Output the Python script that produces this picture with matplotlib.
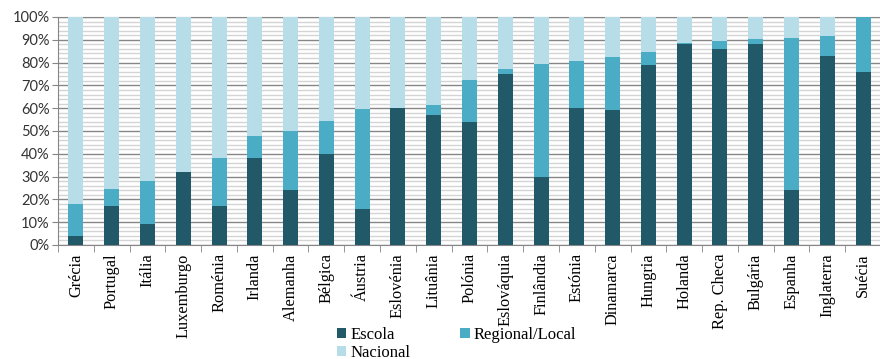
import numpy as np
import matplotlib
import matplotlib.pyplot as plt
from matplotlib.ticker import MultipleLocator, FixedLocator

matplotlib.use('Agg')

paises = ['Grécia', 'Portugal', 'Itália', 'Luxemburgo', 'Roménia', 'Irlanda',
          'Alemanha', 'Bélgica', 'Áustria', 'Eslovénia', 'Lituânia', 'Polónia',
          'Eslováquia', 'Finlândia', 'Estónia', 'Dinamarca', 'Hungria', 'Holanda',
          'Rep. Checa', 'Bulgária', 'Espanha', 'Inglaterra', 'Suécia']

escola = [4, 17, 9, 32, 17, 38, 24, 40, 16, 60, 57, 54,
          75, 30, 60, 59, 79, 88, 86, 88, 24, 83, 76]
regional = [14, 7.5, 19, 0, 21, 10, 26, 14.5, 43.5, 0, 4.5, 18.5,
            2, 49.5, 20.5, 23.5, 5.5, 0.5, 3.5, 2.5, 67, 8.7, 24]
nacional = [100 - e - r for e, r in zip(escola, regional)]
yticks = list(range(0, 101, 10))

c_escola = '#215968'
c_regional = '#4BACC6'
c_nacional = '#B7DEE8'

fig = plt.figure(figsize=(8.8, 3.59), dpi=100)
ax = fig.add_axes([58 / 880, 1 - 245 / 359, 823 / 880, 228 / 359])

x = np.arange(len(paises))
w = 0.42
base2 = np.array(escola)
base3 = base2 + np.array(regional)
b1 = ax.bar(x, escola, w, color=c_escola, label='Escola', zorder=3)
b2 = ax.bar(x, regional, w, bottom=base2, color=c_regional, label='Regional/Local', zorder=3)
b3 = ax.bar(x, nacional, w, bottom=base3, color=c_nacional, label='Nacional', zorder=3)

ax.set_xlim(-0.5, len(paises) - 0.5)
ax.set_ylim(0, 100)

ax.set_yticks(yticks)
ax.set_yticklabels([f'{v}%' for v in yticks], family='Lato', fontsize=10.5,
                   color='#333333')
ax.yaxis.set_minor_locator(MultipleLocator(2))
ax.grid(axis='y', which='major', color='#868686', lw=1, zorder=0)
ax.grid(axis='y', which='minor', color='#d4d4d4', lw=1, zorder=0)
ax.tick_params(axis='y', which='major', length=4, color='#868686', pad=2)
ax.tick_params(axis='y', which='minor', length=0)

ax.set_xticks(x)
ax.set_xticklabels(paises, rotation=90, family='Liberation Serif', fontsize=11.8)
ax.xaxis.set_minor_locator(FixedLocator(np.arange(-0.5, len(paises), 1)))
ax.tick_params(axis='x', which='major', length=0, pad=6)
ax.tick_params(axis='x', which='minor', length=5, color='#868686')

for s in ['top', 'left', 'bottom']:
    ax.spines[s].set_color('#868686')
ax.spines['right'].set_visible(False)

# ordem para preencher por linhas: Escola, Regional/Local / Nacional
fig.legend([b1, b3, b2], ['Escola', 'Nacional', 'Regional/Local'],
           loc='upper left', bbox_to_anchor=(337 / 880, 1 - 327 / 359), ncol=2,
           frameon=False, prop={'family': 'Liberation Serif', 'size': 12},
           handlelength=0.55, handleheight=0.55, handletextpad=0.25,
           columnspacing=3.0, labelspacing=0.1, borderpad=0, borderaxespad=0)

fig.savefig('out.png', dpi=100)
